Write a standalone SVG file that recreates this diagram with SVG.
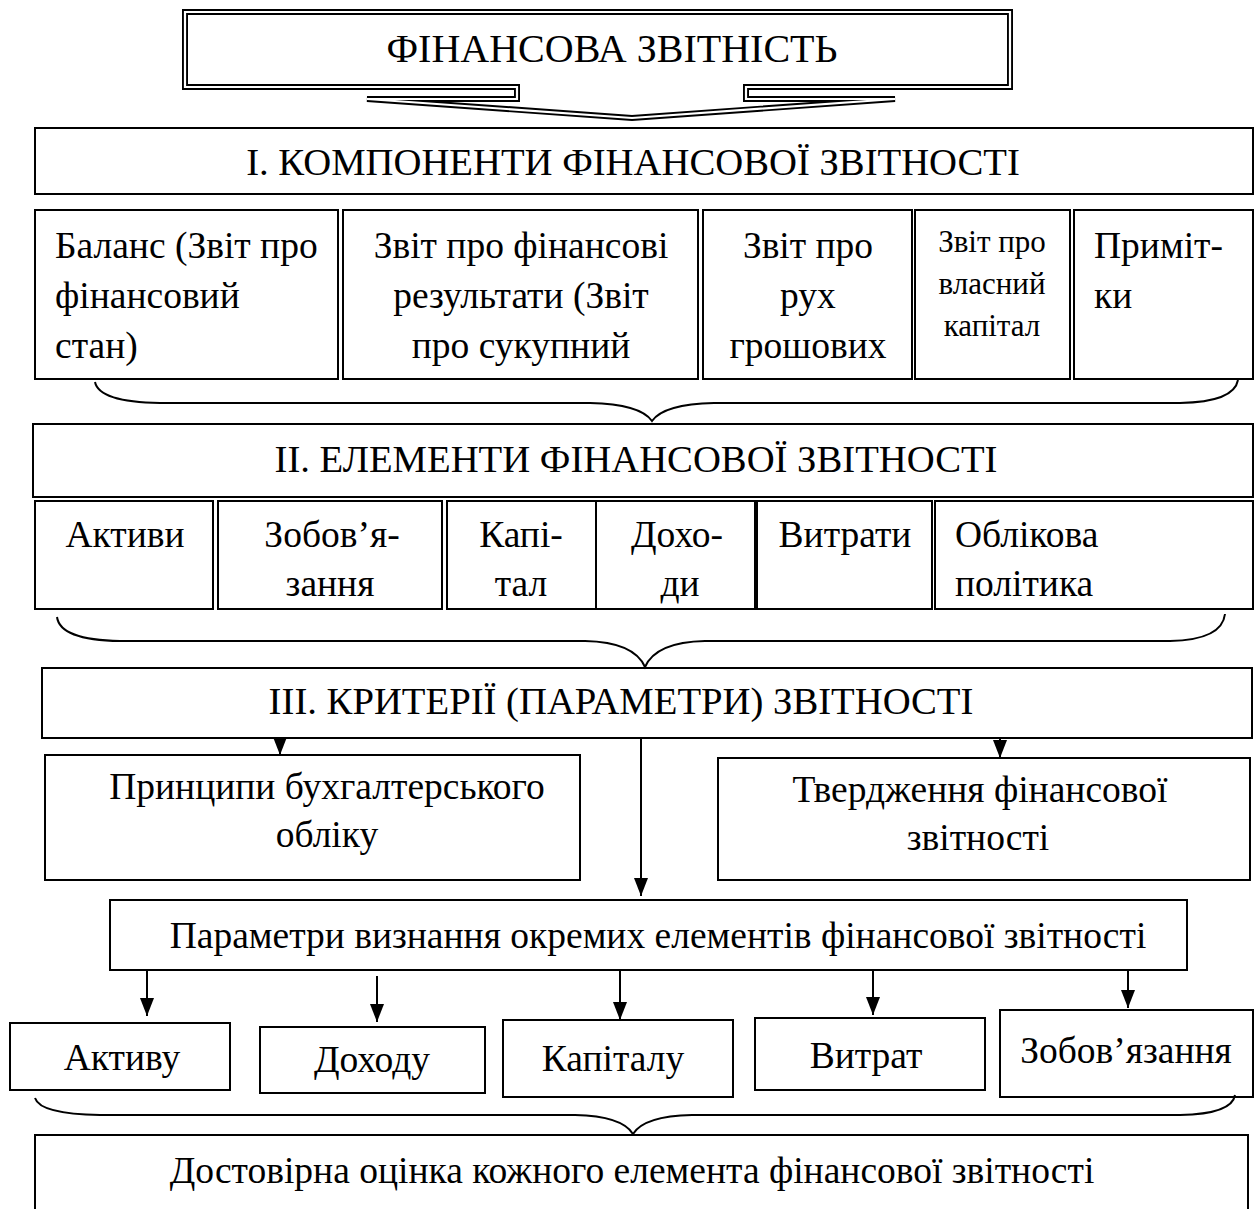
<svg xmlns="http://www.w3.org/2000/svg" width="1257" height="1209" viewBox="0 0 1257 1209">
<defs>
<style>
text{font-family:"Liberation Serif","Times New Roman",serif;font-size:37.5px;fill:#000}
.c{text-anchor:middle}
.h{font-size:38.7px}
.t{font-size:40px}
.s{font-size:31px}
.box{fill:#fff;stroke:#000;stroke-width:2}
.brace{fill:none;stroke:#000;stroke-width:2}
.ln{stroke:#000;stroke-width:2;fill:none}
</style>
<marker id="arr" markerWidth="18" markerHeight="14" refX="18" refY="7" orient="auto" markerUnits="userSpaceOnUse" viewBox="0 0 18 14">
<path d="M0,0 L18,7 L0,14 Z" fill="#000"/>
</marker>
</defs>
<rect width="1257" height="1209" fill="#fff"/>

<g id="title">
<path d="M185,12 H1010 V87 H746 V99 H895 L632,118 L367,99 H517 V87 H185 Z" fill="#fff" stroke="#000" stroke-width="6" stroke-linejoin="miter"/>
<path d="M185,12 H1010 V87 H746 V99 H895 L632,118 L367,99 H517 V87 H185 Z" fill="none" stroke="#fff" stroke-width="2.2" stroke-linejoin="miter"/>
<text class="c t" x="612" y="62">ФІНАНСОВА ЗВІТНІСТЬ</text>
</g>

<g id="components-header">
<rect class="box" x="35" y="128" width="1218" height="66"/>
<text class="c h" x="633" y="175">І. КОМПОНЕНТИ ФІНАНСОВОЇ ЗВІТНОСТІ</text>
</g>

<g id="balance">
<rect class="box" x="35" y="210" width="303" height="169"/>
<text x="55" y="258">Баланс (Звіт про</text>
<text x="55" y="308">фінансовий</text>
<text x="55" y="358">стан)</text>
</g>
<g id="income">
<rect class="box" x="343" y="210" width="355" height="169"/>
<text class="c" x="521" y="258">Звіт про фінансові</text>
<text class="c" x="521" y="308">результати (Звіт</text>
<text class="c" x="521" y="358">про сукупний</text>
</g>
<g id="cashflow">
<rect class="box" x="703" y="210" width="209" height="169"/>
<text class="c" x="808" y="258">Звіт про</text>
<text class="c" x="808" y="308">рух</text>
<text class="c" x="808" y="358">грошових</text>
</g>
<g id="equity">
<rect class="box" x="915" y="210" width="155" height="169"/>
<text class="c s" x="992" y="252">Звіт про</text>
<text class="c s" x="992" y="294">власний</text>
<text class="c s" x="992" y="336">капітал</text>
</g>
<g id="notes">
<rect class="box" x="1074" y="210" width="179" height="169"/>
<text x="1094" y="258">Приміт-</text>
<text x="1094" y="308">ки</text>
</g>

<g id="elements-header">
<rect class="box" x="33" y="424" width="1220" height="73"/>
<text class="c h" x="636" y="472">ІІ. ЕЛЕМЕНТИ ФІНАНСОВОЇ ЗВІТНОСТІ</text>
</g>

<g id="assets">
<rect class="box" x="35" y="501" width="178" height="108"/>
<text class="c" x="125" y="547">Активи</text>
</g>
<g id="liabilities">
<rect class="box" x="218" y="501" width="224" height="108"/>
<text class="c" x="332" y="547">Зобов’я-</text>
<text class="c" x="330" y="596">зання</text>
</g>
<g id="capital">
<rect class="box" x="447" y="501" width="149" height="108"/>
<text class="c" x="521" y="547">Капі-</text>
<text class="c" x="521" y="596">тал</text>
</g>
<g id="income-el">
<rect class="box" x="596" y="501" width="159" height="108"/>
<text class="c" x="677" y="547">Дохо-</text>
<text class="c" x="680" y="596">ди</text>
</g>
<g id="expenses">
<rect class="box" x="757" y="501" width="175" height="108"/>
<text class="c" x="845" y="547">Витрати</text>
</g>
<g id="policy">
<rect class="box" x="935" y="501" width="318" height="108"/>
<text x="955" y="547">Облікова</text>
<text x="955" y="596">політика</text>
</g>

<g id="criteria-header">
<rect class="box" x="42" y="668" width="1210" height="70"/>
<text class="c h" x="621" y="714">ІІІ. КРИТЕРІЇ (ПАРАМЕТРИ) ЗВІТНОСТІ</text>
</g>

<g id="principles">
<rect class="box" x="45" y="755" width="535" height="125"/>
<text class="c" x="327" y="799">Принципи бухгалтерського</text>
<text class="c" x="327" y="847">обліку</text>
</g>
<g id="assertions">
<rect class="box" x="718" y="758" width="532" height="122"/>
<text class="c" x="980" y="802">Твердження фінансової</text>
<text class="c" x="978" y="850">звітності</text>
</g>

<g id="recognition">
<rect class="box" x="110" y="900" width="1077" height="70"/>
<text class="c" x="658" y="948">Параметри визнання окремих елементів фінансової звітності</text>
</g>

<g id="r-asset">
<rect class="box" x="10" y="1023" width="220" height="67"/>
<text class="c" x="122" y="1070">Активу</text>
</g>
<g id="r-income">
<rect class="box" x="260" y="1027" width="225" height="66"/>
<text class="c" x="372" y="1072">Доходу</text>
</g>
<g id="r-capital">
<rect class="box" x="503" y="1020" width="230" height="77"/>
<text class="c" x="613" y="1071">Капіталу</text>
</g>
<g id="r-expense">
<rect class="box" x="755" y="1018" width="230" height="72"/>
<text class="c" x="866" y="1068">Витрат</text>
</g>
<g id="r-liability">
<rect class="box" x="1000" y="1010" width="253" height="87"/>
<text class="c" x="1126" y="1063">Зобов’язання</text>
</g>

<g id="fair-value">
<rect class="box" x="35" y="1135" width="1213" height="80"/>
<text class="c" x="632" y="1183">Достовірна оцінка кожного елемента фінансової звітності</text>
</g>

<g id="connectors">
<path class="brace" d="M95,382 Q99,402 160,403 L590,403 Q640,404 652,421 Q664,404 714,403 L1180,403 Q1234,402 1238,380"/>
<path class="brace" d="M57,617 Q60,640 120,641 L585,641 Q634,642 645,667 Q656,642 705,641 L1170,641 Q1222,640 1225,614"/>
<path class="brace" d="M35,1098 Q40,1114 100,1115 L575,1115 Q622,1116 633,1134 Q644,1116 692,1115 L1180,1115 Q1232,1114 1235,1095"/>
<line class="ln" x1="280" y1="738" x2="280" y2="755" marker-end="url(#arr)"/>
<line class="ln" x1="1000" y1="738" x2="1000" y2="758" marker-end="url(#arr)"/>
<line class="ln" x1="641" y1="738" x2="641" y2="896" marker-end="url(#arr)"/>
<line class="ln" x1="147" y1="970" x2="147" y2="1016" marker-end="url(#arr)"/>
<line class="ln" x1="377" y1="976" x2="377" y2="1022" marker-end="url(#arr)"/>
<line class="ln" x1="620" y1="970" x2="620" y2="1020" marker-end="url(#arr)"/>
<line class="ln" x1="873" y1="970" x2="873" y2="1015" marker-end="url(#arr)"/>
<line class="ln" x1="1128" y1="970" x2="1128" y2="1008" marker-end="url(#arr)"/>
</g>
</svg>
